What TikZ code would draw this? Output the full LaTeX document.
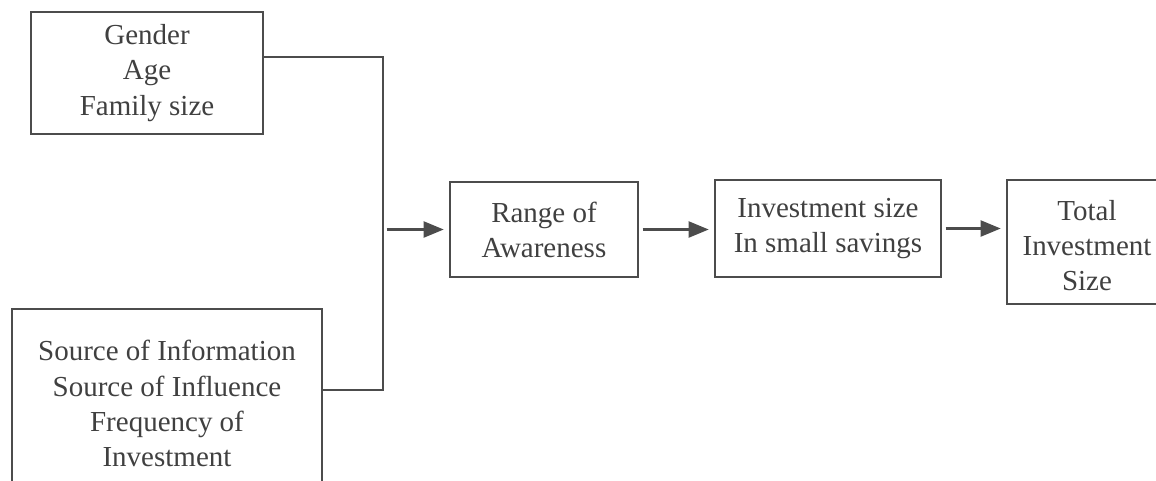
\documentclass[tikz,border=0pt]{standalone}
\usepackage{fontspec}
\setmainfont{Liberation Serif}
\usetikzlibrary{arrows.meta}

\begin{document}
\begin{tikzpicture}

        \tikzstyle{box} = [draw=black!70, line width=1.2pt, text=black!75, align=center, font=\fontsize{16.5}{20}\selectfont];
        \tikzstyle{wire} = [draw=black!70, line width=1.2pt];
        \tikzstyle{arrow} = [wire, -{Triangle[length=0.4cm,width=0.32cm]}, shorten <=2pt, shorten >=3pt];

        \useasboundingbox (0,0) rectangle (23.12,-9.6);
        \clip (0,0) rectangle (23.12,-9.6);

        % Left - Inputs
        \node[box, minimum width=4.64cm, minimum height=2.44cm] (demo) at (2.94,-1.46) {Gender\\Age\\Family size};
        \node[box, anchor=north, minimum width=6.2cm, inner ysep=0.63cm] (info) at (3.34,-6.16)
            {Source of Information\\Source of Influence\\Frequency of\\Investment};

        \coordinate (bustop) at (7.66,-1.14);
        \coordinate (busbot) at (7.66,-7.8);
        \draw[wire] (bustop -| demo.east) -- (bustop) -- (busbot) -- (busbot -| info.east);
        % Left - Inputs

        % Right - Chain
        \node[box, minimum width=3.76cm, minimum height=1.9cm] (range) at (10.88,-4.59) {Range of\\Awareness};
        \node[box, minimum width=4.52cm, minimum height=1.94cm] (small) at (16.56,-4.57) {Investment size\\In small savings};
        \node[box, minimum width=3.2cm, minimum height=2.48cm, text height=1.96cm] (total) at (21.74,-4.84) {Total\\Investment\\Size};

        \draw[arrow] (range.west -| bustop) -- (range.west);
        \draw[arrow] (range.east) -- (range.east -| small.west);
        \draw[arrow] (small.east) -- (small.east -| total.west);
        % Right - Chain

\end{tikzpicture}
\end{document}
